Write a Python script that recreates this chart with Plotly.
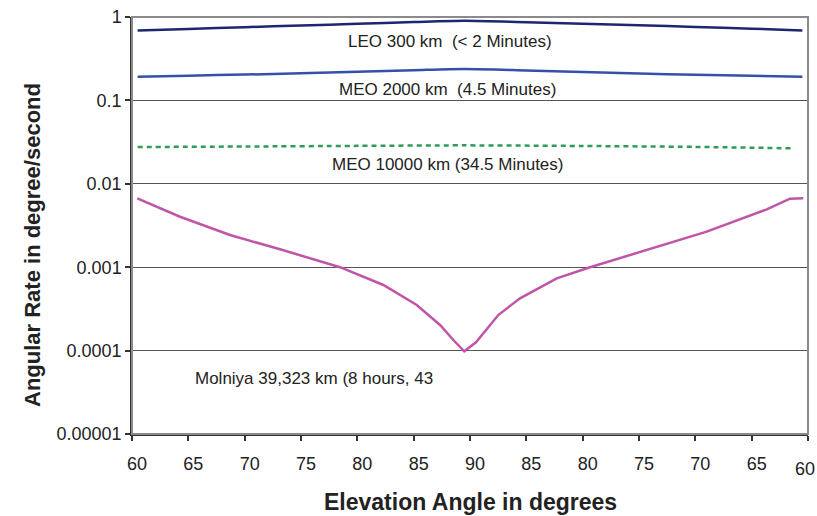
import plotly.graph_objects as go

# x = position along the pass (0 = 60 deg rising, 30 = zenith, 60 = 60 deg setting)
tick_pos = [0, 5, 10, 15, 20, 25, 30, 35, 40, 45, 50, 55, 60]
tick_labels = ["60", "65", "70", "75", "80", "85", "90", "85", "80", "75", "70", "65", "60"]

leo_x = [0.5, 5, 10, 15, 20, 25, 29.5, 35, 40, 45, 50, 55, 59.5]
leo_y = [0.69, 0.72, 0.755, 0.79, 0.83, 0.87, 0.90, 0.865, 0.83, 0.795, 0.76, 0.725, 0.69]

meo2_x = [0.5, 5, 10, 15, 20, 25, 29.5, 35, 40, 45, 50, 55, 59.5]
meo2_y = [0.192, 0.198, 0.204, 0.211, 0.220, 0.230, 0.238, 0.229, 0.219, 0.210, 0.203, 0.197, 0.192]

meo10_x = [0.5, 10, 20, 29.5, 40, 50, 58.8]
meo10_y = [0.0276, 0.0280, 0.0285, 0.0289, 0.0284, 0.0277, 0.0266]

mol_x = [0.47, 4.26, 8.70, 13.14, 18.46, 22.31, 25.27, 27.34, 28.52, 29.49,
         30.53, 32.51, 34.44, 37.70, 40.66, 45.68, 51.01, 56.34, 58.40, 59.58]
mol_y = [0.0067, 0.00403, 0.00243, 0.00164, 0.00100, 0.000612, 0.000352, 0.000203, 0.000134, 0.0000982,
         0.000126, 0.000267, 0.000424, 0.000736, 0.00100, 0.00161, 0.00267, 0.00494, 0.00664, 0.0067]

y_ticks = [1, 0.1, 0.01, 0.001, 0.0001, 0.00001]
y_tick_labels = ["1", "0.1", "0.01", "0.001", "0.0001", "0.00001"]

FONT = "Arial, Liberation Sans, sans-serif"

fig = go.Figure()
fig.add_trace(go.Scatter(x=leo_x, y=leo_y, mode="lines",
                         line=dict(color="#1e2670", width=2.5, shape="spline", smoothing=0.8),
                         name="LEO 300 km"))
fig.add_trace(go.Scatter(x=meo2_x, y=meo2_y, mode="lines",
                         line=dict(color="#3550a8", width=2.5, shape="spline", smoothing=0.8),
                         name="MEO 2000 km"))
fig.add_trace(go.Scatter(x=meo10_x, y=meo10_y, mode="lines",
                         line=dict(color="#2e9a5c", width=2.5, dash="5px,4px", shape="spline",
                                   smoothing=0.8), name="MEO 10000 km"))
fig.add_trace(go.Scatter(x=mol_x, y=mol_y, mode="lines",
                         line=dict(color="#c055a8", width=2.5), name="Molniya"))

ann_font = dict(family=FONT, size=17, color="#222222")
tick_font = dict(family=FONT, size=18, color="#222222")
annotations = [
    dict(x=28.2, y=-0.288, xref="x", yref="y", text="LEO 300 km&nbsp;&nbsp;(< 2 Minutes)",
         showarrow=False, font=ann_font),
    dict(x=28.0, y=-0.875, xref="x", yref="y", text="MEO 2000 km&nbsp;&nbsp;(4.5 Minutes)",
         showarrow=False, font=ann_font),
    dict(x=28.0, y=-1.765, xref="x", yref="y", text="MEO 10000 km (34.5 Minutes)",
         showarrow=False, font=ann_font),
    dict(x=5.4, y=-4.33, xref="x", yref="y", text="Molniya 39,323 km (8 hours, 43",
         showarrow=False, xanchor="left", font=ann_font),
    # last x tick label, sits slightly lower and left of its tick as in the source chart
    dict(x=tick_pos[-1], y=0, xref="x", yref="paper", text=tick_labels[-1],
         showarrow=False, xshift=-3, yshift=-35, yanchor="middle", font=tick_font),
    dict(x=0, y=0.5, xref="paper", yref="paper", text="<b>Angular Rate in degree/second</b>",
         textangle=-90, showarrow=False, xshift=-114, yshift=-20,
         font=dict(family=FONT, size=22, color="#222222")),
    dict(x=0.5, y=0, xref="paper", yref="paper", text="<b>Elevation Angle in degrees</b>",
         showarrow=False, yshift=-68, yanchor="middle",
         font=dict(family=FONT, size=23, color="#222222")),
]

fig.update_layout(
    width=817, height=516,
    margin=dict(l=132, r=9, t=17, b=82),
    paper_bgcolor="white", plot_bgcolor="white",
    showlegend=False,
    annotations=annotations,
    shapes=[dict(type="rect", xref="paper", yref="paper", x0=0, y0=0, x1=1, y1=1,
                 line=dict(color="#8a8a8a", width=2), layer="above")],
    font=dict(family=FONT, color="#222222"),
)
fig.update_xaxes(range=[0, 60], tickmode="array", tickvals=tick_pos,
                 ticktext=tick_labels[:-1] + [""],
                 showgrid=False, zeroline=False, ticks="outside", ticklen=5, tickwidth=1.5,
                 tickcolor="#333333", showline=True, linecolor="#333333", linewidth=1.5,
                 tickfont=tick_font, ticklabelshift=5, ticklabelstandoff=8, automargin=False)
fig.update_yaxes(type="log", range=[-5, 0], tickmode="array", tickvals=y_ticks,
                 ticktext=y_tick_labels, showgrid=True, gridcolor="#555555", gridwidth=1,
                 zeroline=False, ticks="outside", ticklen=5, tickwidth=1.5, tickcolor="#333333",
                 showline=True, linecolor="#333333", linewidth=1.5,
                 tickfont=tick_font, automargin=False)

fig.write_html("out.html", config={"displayModeBar": False},
               post_script="document.body.style.margin='0';document.body.style.overflow='hidden';")
